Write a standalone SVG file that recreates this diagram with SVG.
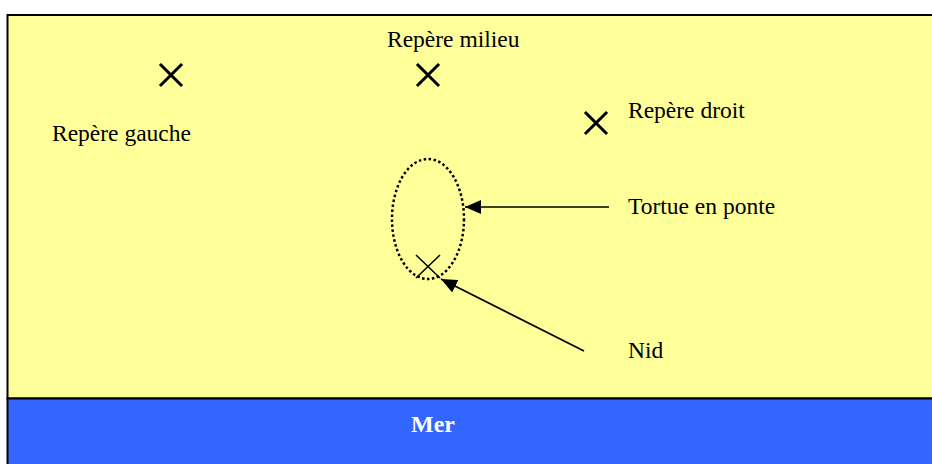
<svg xmlns="http://www.w3.org/2000/svg" width="932" height="464" viewBox="0 0 932 464">
<style>
.t{font-family:"Liberation Serif","Times New Roman",serif;font-size:23.5px;fill:#000}
.x{stroke:#000;stroke-width:3;stroke-linecap:square}
.c{stroke:#000;stroke-width:1.6;fill:none}
</style>
<defs>
<marker id="ah" markerUnits="userSpaceOnUse" markerWidth="17" markerHeight="14" refX="16" refY="7" orient="auto">
<path d="M0,0 L16,7 L0,14 Z" fill="#000"/>
</marker>
</defs>
<rect width="932" height="464" fill="#fff"/>
<g id="plage">
<rect x="7.5" y="15" width="930" height="383.5" fill="#FFFF99" stroke="#000" stroke-width="2"/>
</g>
<g id="mer">
<rect x="7.5" y="398.5" width="930" height="70" fill="#3366FF" stroke="#000" stroke-width="2"/>
<text x="433" y="432" text-anchor="middle" font-family="Liberation Serif, serif" font-size="24" font-weight="bold" fill="#fff">Mer</text>
</g>
<g id="repere-gauche">
<path class="x" d="M161,65 L181,85 M181,65 L161,85"/>
<text class="t" x="52" y="141">Repère gauche</text>
</g>
<g id="repere-milieu">
<path class="x" d="M418,65 L438,85 M438,65 L418,85"/>
<text class="t" x="387" y="47">Repère milieu</text>
</g>
<g id="repere-droit">
<path class="x" d="M586,113 L606,133 M606,113 L586,133"/>
<text class="t" x="628" y="118">Repère droit</text>
</g>
<g id="tortue">
<ellipse cx="428" cy="219" rx="36" ry="60" fill="none" stroke="#000" stroke-width="2.5" stroke-dasharray="2.5,2.5"/>
<text class="t" x="628" y="214">Tortue en ponte</text>
</g>
<g id="nid">
<path class="c" d="M416,255 L440,278 M440,255 L416,278"/>
<text class="t" x="628" y="358">Nid</text>
</g>
<g id="connecteurs">
<line x1="609" y1="207" x2="465" y2="207" stroke="#000" stroke-width="1.6" marker-end="url(#ah)"/>
<line x1="584" y1="351" x2="441" y2="279" stroke="#000" stroke-width="1.6" marker-end="url(#ah)"/>
</g>
</svg>
